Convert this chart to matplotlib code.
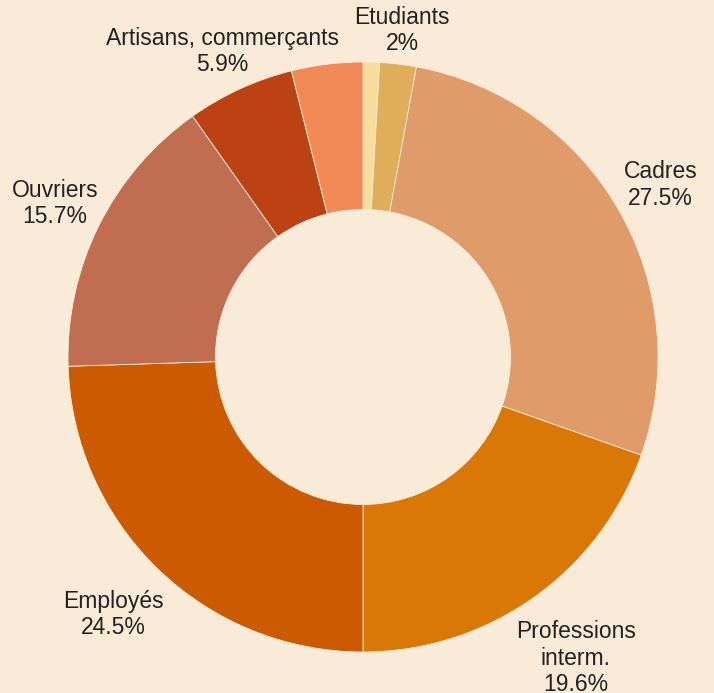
import matplotlib.pyplot as plt
import numpy as np

plt.rcParams['font.family'] = ['Liberation Sans', 'DejaVu Sans']

# slices, clockwise from 12 o'clock
names = ["", "Etudiants", "Cadres", "Professions\ninterm.", "Employés",
         "Ouvriers", "Artisans, commerçants", ""]
values = [0.9, 2.0, 27.5, 19.6, 24.5, 15.7, 5.9, 3.9]
colors = ["#F7DC9B", "#E0AE5B", "#E09B6A", "#D97806", "#CB5A00",
          "#C06D51", "#BC4213", "#F28A58"]
show_label = [False, True, True, True, True, True, True, False]

bg = "#FAEBD9"

fig = plt.figure(figsize=(7.14, 6.93), dpi=100, facecolor=bg)
ax = fig.add_axes([0, 0, 1, 1])
ax.set_facecolor(bg)

wedges, _ = ax.pie(values, colors=colors, startangle=90, counterclock=False,
                   radius=1.0, wedgeprops=dict(width=0.5, edgecolor=bg, linewidth=0.6))

# label distance per slice (layout only)
label_r = [1.1, 1.115, 1.165, 1.25, 1.215, 1.167, 1.14, 1.1]

total = sum(values)
cum = 0
for i, v in enumerate(values):
    mid = (cum + v / 2) / total * 360
    cum += v
    if not show_label[i]:
        continue
    a = np.deg2rad(90 - mid)
    r = label_r[i]
    ax.text(r * np.cos(a), r * np.sin(a), f"{names[i]}\n{v:g}%",
            ha="center", va="center", fontsize=16.5, color="#222222",
            linespacing=1.2)

ax.set_xlim(-363 / 295, (714 - 363) / 295)
ax.set_ylim(-(693 - 357) / 295, 357 / 295)
ax.set_aspect("auto")
ax.axis("off")

fig.savefig("out.png", dpi=100, facecolor=bg)
